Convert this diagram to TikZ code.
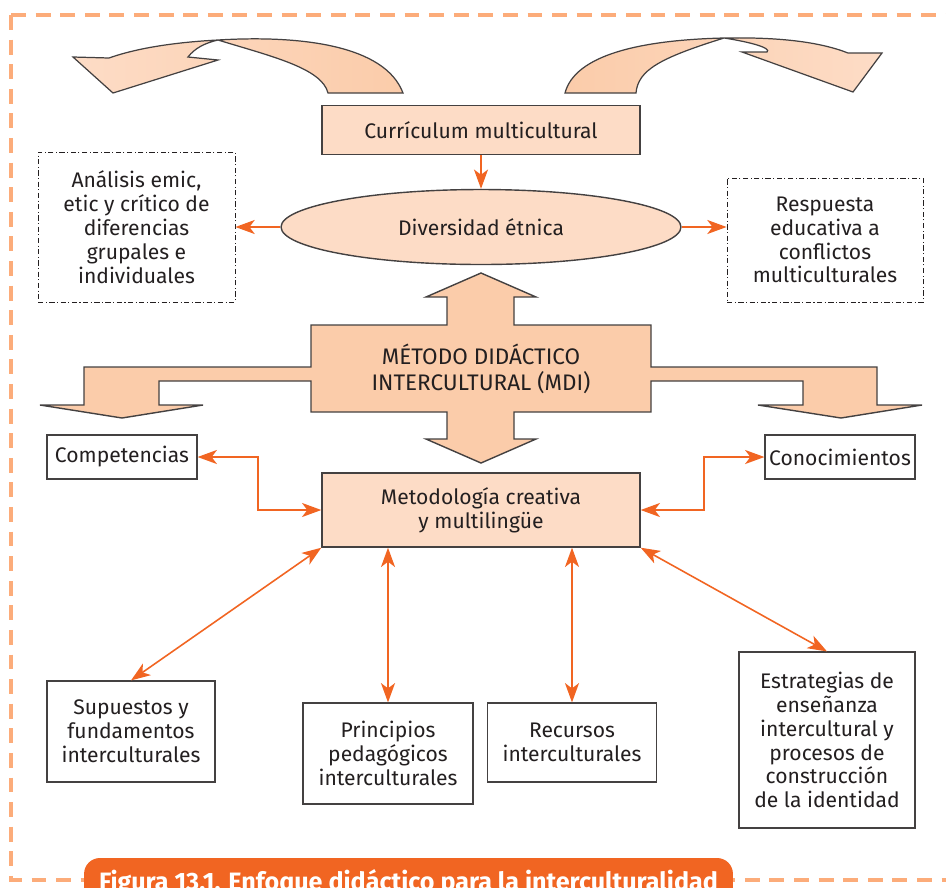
\documentclass[tikz,border=0pt]{standalone}
\usepackage{fontspec}
\setmainfont{Fira Sans}
\usepackage{xcolor}
\definecolor{ink}{RGB}{35,31,32}
\definecolor{lightpeach}{RGB}{253,220,198}
\definecolor{peach}{RGB}{251,204,170}
\definecolor{flecha}{RGB}{241,101,34}
\definecolor{marco}{RGB}{252,172,122}
\usepackage{tikz}
\usetikzlibrary{shapes.geometric,arrows.meta,calc}

\begin{document}
\begin{tikzpicture}[
  x=0.02cm, y=-0.02cm,
  >={Stealth[length=11pt,width=8pt,inset=3pt]},
  every node/.style={font=\fontsize{12}{13.6}\selectfont, text=ink, align=center, inner sep=2pt},
  peachbox/.style={draw=ink!85, fill=lightpeach, line width=0.8pt},
  plainbox/.style={draw=ink!85, fill=white, line width=0.7pt},
  dotbox/.style={draw=ink, line width=0.5pt, dash pattern=on 3pt off 1.4pt on 0.6pt off 1.4pt},
  bigshape/.style={draw=ink!85, fill=peach, line width=0.8pt, line join=miter},
  ribbon/.style={draw=ink!85, line width=0.7pt, shading=axis, shading angle=90},
  link/.style={<->, line width=0.9pt, color=flecha},
  pie/.style={fill=flecha, rounded corners=9pt, text=white, font=\bfseries\fontsize{14.3}{16}\selectfont}
]
\clip (0,0) rectangle (946,887);

% marco punteado
\draw[marco, line width=2.8pt, dash pattern=on 8.5pt off 5.5pt] (11,15) -- (980,15);
\draw[marco, line width=2.8pt, dash pattern=on 8.5pt off 5.5pt] (11,15) -- (11,880) -- (980,880);

% flechas curvas de arriba
\draw[ribbon, left color=lightpeach, right color=peach]
  (403,93) .. controls (385,45) and (300,35) .. (218,40)
  .. controls (180,42) and (140,47) .. (109,58)
  -- (73,57) -- (113,93) -- (218,60) -- (188,57)
  .. controls (195,48) and (205,43) .. (218,40)
  .. controls (270,56) and (322,68) .. (328,93) -- cycle;
\draw[ribbon, left color=peach, right color=lightpeach]
  (565,93) .. controls (575,55) and (640,40) .. (724,38)
  .. controls (780,37) and (820,42) .. (848,53)
  -- (882,53) -- (853,92) -- (742,52) -- (767,52)
  .. controls (772,48) and (750,42) .. (724,38)
  .. controls (660,58) and (638,70) .. (636,93) -- cycle;

% flecha de cuatro puntas
\draw[bigshape]
  (481,273) -- (536,297) -- (514,297) -- (514,325) -- (651,325) -- (651,367)
  -- (877,367) -- (877,405) -- (922,405) -- (841,418) -- (758,405) -- (803,405)
  -- (803,381) -- (651,381) -- (651,412) -- (514,412) -- (514,439) -- (536,439)
  -- (481,463) -- (426,439) -- (447,439) -- (447,412) -- (311,412) -- (311,381)
  -- (159,381) -- (159,405) -- (203,405) -- (122,418) -- (40,405) -- (84,405)
  -- (84,367) -- (311,367) -- (311,325) -- (447,325) -- (447,297) -- (426,297) -- cycle;
\node[font=\fontsize{12.8}{15}\selectfont] (mdi) at (481,369) {MÉTODO DIDÁCTICO\\INTERCULTURAL (MDI)};

% nodos
\node[peachbox, minimum width=6.36cm, minimum height=0.98cm] (curr) at (481,130) {Currículum multicultural};
\node[peachbox, ellipse, inner sep=0pt, minimum width=8cm, minimum height=1.5cm] (divers) at (481,227) {Diversidad étnica};
\node[dotbox, minimum width=3.94cm, minimum height=3cm] (analisis) at (136.5,227) {Análisis emic,\\etic y crítico de\\diferencias\\grupales e\\individuales};
\node[dotbox, minimum width=3.92cm, minimum height=2.48cm] (respuesta) at (825,240) {Respuesta\\educativa a\\conflictos\\multiculturales};
\node[peachbox, minimum width=6.36cm, minimum height=1.48cm] (metod) at (481,510) {Metodología creativa\\y multilingüe};
\node[plainbox, minimum width=3cm, minimum height=0.88cm] (compet) at (122,457) {Competencias};
\node[plainbox, minimum width=3cm, minimum height=0.88cm] (conoc) at (840,457) {Conocimientos};
\node[plainbox, minimum width=3.36cm, minimum height=2.02cm] (supuestos) at (131,731.5) {Supuestos y\\fundamentos\\interculturales};
\node[plainbox, minimum width=3.4cm, minimum height=2.02cm] (principios) at (388,753.5) {Principios\\pedagógicos\\interculturales};
\node[plainbox, minimum width=3.38cm, minimum height=1.58cm] (recursos) at (572,742.5) {Recursos\\interculturales};
\node[plainbox, minimum width=3.52cm, minimum height=3.52cm] (estrategias) at (827,740) {Estrategias de\\enseñanza\\intercultural y\\procesos de\\construcción\\de la identidad};

\coordinate (kL) at (258,0);
\coordinate (kR) at (704,0);

% conectores
\draw[link, ->] (curr) -- (divers);
\draw[link, ->] (divers) -- (analisis);
\draw[link, ->] (divers.east) -- (divers.east -| respuesta.west);
\draw[link] (compet.east) -- (compet.east -| kL) |- (metod.west);
\draw[link] (conoc.west) -- (conoc.west -| kR) |- (metod.east);
\draw[link] (metod.south west) -- (supuestos.north);
\draw[link] (metod.south -| principios.north) -- (principios.north);
\draw[link] (metod.south -| recursos.north) -- (recursos.north);
\draw[link] (metod.south east) -- (estrategias.north);

% pie de figura
\node[pie, minimum width=12.98cm, minimum height=1cm] (titulo) at (408.5,883) {Figura 13.1. Enfoque didáctico para la interculturalidad};
\end{tikzpicture}
\end{document}
